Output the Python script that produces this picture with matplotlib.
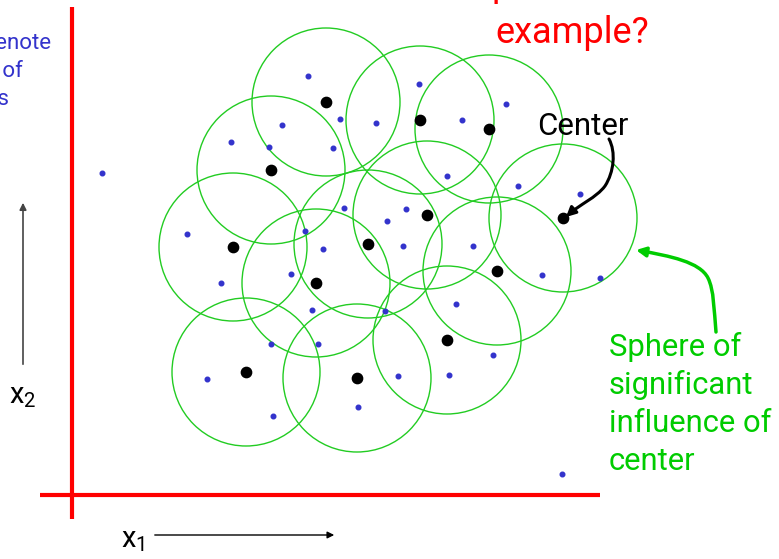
import matplotlib.pyplot as plt
from matplotlib.patches import Circle, FancyArrowPatch
from matplotlib.path import Path

plt.rcParams['font.family'] = ['Roboto', 'DejaVu Sans']
plt.rcParams['mathtext.default'] = 'regular'

# cluster centres (pixel coords of the slide, y down)
center_x = [326, 420, 489, 271, 427, 368, 233, 316, 497, 563, 447, 246, 357]
center_y = [102, 120, 129, 170, 215, 244, 247, 283, 271, 218, 340, 372, 378]
radius = 74

# data points
point_x = [102, 308, 419, 506, 340, 376, 462, 282, 231, 269, 333, 447, 518,
           580, 344, 406, 387, 187, 305, 323, 403, 473, 221, 291, 542, 600,
           456, 312, 385, 271, 318, 493, 207, 398, 449, 358, 273, 562]
point_y = [173, 76, 84, 104, 119, 123, 120, 125, 142, 147, 148, 176, 186,
           194, 208, 209, 221, 234, 231, 249, 246, 246, 283, 274, 275, 278,
           304, 310, 311, 344, 344, 355, 379, 376, 375, 407, 416, 474]

sphere_lines = ['Sphere of', 'significant', 'influence of', 'center']
sphere_base = [356, 394, 432, 470]

red = '#ff0000'
green = '#00cc00'
blue = '#3333cc'

fig = plt.figure(figsize=(7.79, 5.59), dpi=100)
ax = fig.add_axes([0, 0, 1, 1])
ax.set_xlim(0, 779)
ax.set_ylim(559, 0)
ax.axis('off')

# red axes
ax.plot([72, 72], [7, 519], color=red, lw=3, solid_capstyle='butt')
ax.plot([40, 600], [495, 495], color=red, lw=3, solid_capstyle='butt')

for cx, cy in zip(center_x, center_y):
    ax.add_patch(Circle((cx, cy), radius, fill=False, ec='#22cc22', lw=1))

ax.scatter(point_x, point_y, s=11, color=blue, zorder=3)
ax.scatter(center_x, center_y, s=55, color='black', zorder=4)

# axis direction arrows
ax.annotate('', xy=(23, 200), xytext=(23, 367),
            arrowprops=dict(arrowstyle='-|>', color='#444444', lw=1.2, mutation_scale=10))
ax.annotate('', xy=(337, 535), xytext=(152, 535),
            arrowprops=dict(arrowstyle='-|>', color='black', lw=1, mutation_scale=10))
ax.text(9, 403, '$x_2$', fontsize=21, va='baseline')
ax.text(121, 547, '$x_1$', fontsize=21, va='baseline')

# title text (cut off at top)
ax.text(492, -4, 'p', color=red, fontsize=26, va='baseline')
ax.text(495, 43, 'example?', color=red, fontsize=26, va='baseline')

# left note (cut off at left)
ax.text(51, 49, 'Big dots denote', color=blue, fontsize=16, va='baseline', ha='right')
ax.text(23, 77, 'centers of', color=blue, fontsize=16, va='baseline', ha='right')
ax.text(9, 105, 'clusters', color=blue, fontsize=16, va='baseline', ha='right')

# Center label and arrow
ax.text(537, 135, 'Center', color='black', fontsize=22.5, va='baseline')
p1 = Path([(609, 139), (616, 152), (614, 172), (605, 186),
           (596, 198), (580, 204), (566, 217)],
          [Path.MOVETO, Path.CURVE4, Path.CURVE4, Path.CURVE4,
           Path.CURVE4, Path.CURVE4, Path.CURVE4])
ax.add_patch(FancyArrowPatch(path=p1, arrowstyle='-|>', color='black',
                             lw=2.2, mutation_scale=14))

# Sphere label and arrow
for line, yb in zip(sphere_lines, sphere_base):
    ax.text(609, yb, line, color=green, fontsize=22.3, va='baseline')
p2 = Path([(716, 332), (714, 310), (714, 290), (708, 278),
           (700, 262), (670, 256), (636, 250)],
          [Path.MOVETO, Path.CURVE4, Path.CURVE4, Path.CURVE4,
           Path.CURVE4, Path.CURVE4, Path.CURVE4])
ax.add_patch(FancyArrowPatch(path=p2, arrowstyle='-|>', color=green,
                             lw=2.5, mutation_scale=14))

fig.savefig('out.png', dpi=100)
